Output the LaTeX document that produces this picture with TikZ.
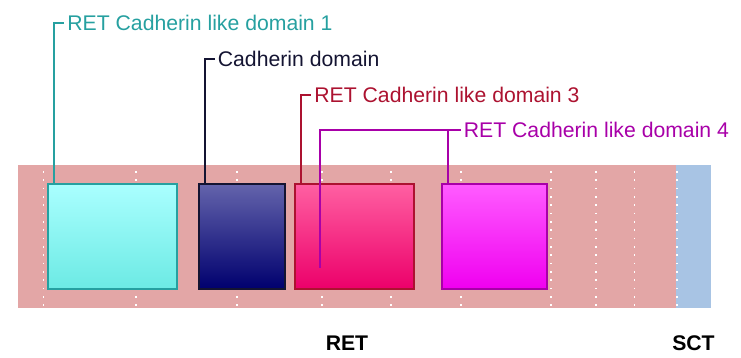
\documentclass[tikz,border=0pt]{standalone}
\usepackage{fontspec}
\setmainfont{Liberation Sans}
\usetikzlibrary{positioning}

\definecolor{retpink}{RGB}{227,166,166}
\definecolor{sctblue}{RGB}{168,196,228}
\definecolor{cAline}{RGB}{38,160,160}
\definecolor{cAtop}{RGB}{170,255,255}
\definecolor{cAmid}{RGB}{155,255,255}
\definecolor{cAbot}{RGB}{108,234,228}
\definecolor{cBline}{RGB}{20,20,50}
\definecolor{cBtop}{RGB}{100,100,172}
\definecolor{cBbot}{RGB}{0,0,110}
\definecolor{cCline}{RGB}{172,18,48}
\definecolor{cCtop}{RGB}{255,96,162}
\definecolor{cCbot}{RGB}{236,0,106}
\definecolor{cDline}{RGB}{168,0,168}
\definecolor{cDtop}{RGB}{255,92,255}
\definecolor{cDbot}{RGB}{240,0,240}

\begin{document}
\begin{tikzpicture}[x=0.5pt,y=-0.5pt,font=\fontsize{10.6}{12}\selectfont,
	seg/.style={rectangle,minimum height=71.35pt,inner sep=0,outer sep=0},
	dom/.style={rectangle,line width=1pt,minimum height=52.5pt,inner sep=0,outer sep=0},
	lab/.style={inner xsep=1.5pt,inner ysep=0,anchor=west},
	lead/.style={line width=1pt},
	seglabel/.style={inner sep=0,font=\fontsize{10.6}{12}\selectfont\bfseries},
	node distance = 14pt]
	\useasboundingbox (0,0) rectangle (741,358);
	% the bar
	\node[seg,fill=retpink,minimum width=329pt] (ret) at (347,236.35) {};
	\node[seg,fill=sctblue,minimum width=17.5pt,right=0pt of ret] (sct) {};
	\node[seglabel,below=of ret] (retl) {RET};
	\node[seglabel,below=of sct] (sctl) {SCT};
	\foreach \x in {43.3,136,237,321.7,390.7,460.7,551,595.7,634.3,676.7}
		\draw[white,line width=0.8pt,dash pattern=on 0.8pt off 3.37pt] (\x,171) -- (\x,307);
	% the domains
	\node[dom,draw=cAline,top color=cAtop,middle color=cAmid,bottom color=cAbot,minimum width=64.8pt] (cld1) at (112.5,236.2) {};
	\node[dom,draw=cBline,top color=cBtop,bottom color=cBbot,minimum width=43.15pt,right=10.7pt of cld1] (cad) {};
	\node[dom,draw=cCline,top color=cCtop,bottom color=cCbot,minimum width=59.65pt,right=4.85pt of cad] (cld3) {};
	\node[dom,draw=cDline,top color=cDtop,bottom color=cDbot,minimum width=52.8pt,right=13.85pt of cld3] (cld4) {};
	% labels
	\node[lab,text=cAline] (l1) at (64,23.3) {RET Cadherin like domain 1};
	\node[lab,text=cBline] (l2) at (214.5,59.3) {Cadherin domain};
	\node[lab,text=cCline] (l3) at (311,95) {RET Cadherin like domain 3};
	\node[lab,text=cDline] (l4) at (460.5,130) {RET Cadherin like domain 4};
	\coordinate[xshift=3pt] (p1) at (cld1.north west);
	\coordinate[xshift=3pt] (p2) at (cad.north west);
	\coordinate[xshift=3.15pt] (p3) at (cld3.north west);
	\coordinate[xshift=3pt] (p4) at (cld4.north west);
	\coordinate (p4b) at (320,268);
	\draw[lead,cAline] (p1) |- (l1.west);
	\draw[lead,cBline] (p2) |- (l2.west);
	\draw[lead,cCline] (p3) |- (l3.west);
	\draw[lead,cDline] (p4b) |- (l4.west);
	\draw[lead,cDline] (p4) -- (p4 |- l4.west);
\end{tikzpicture}
\end{document}
